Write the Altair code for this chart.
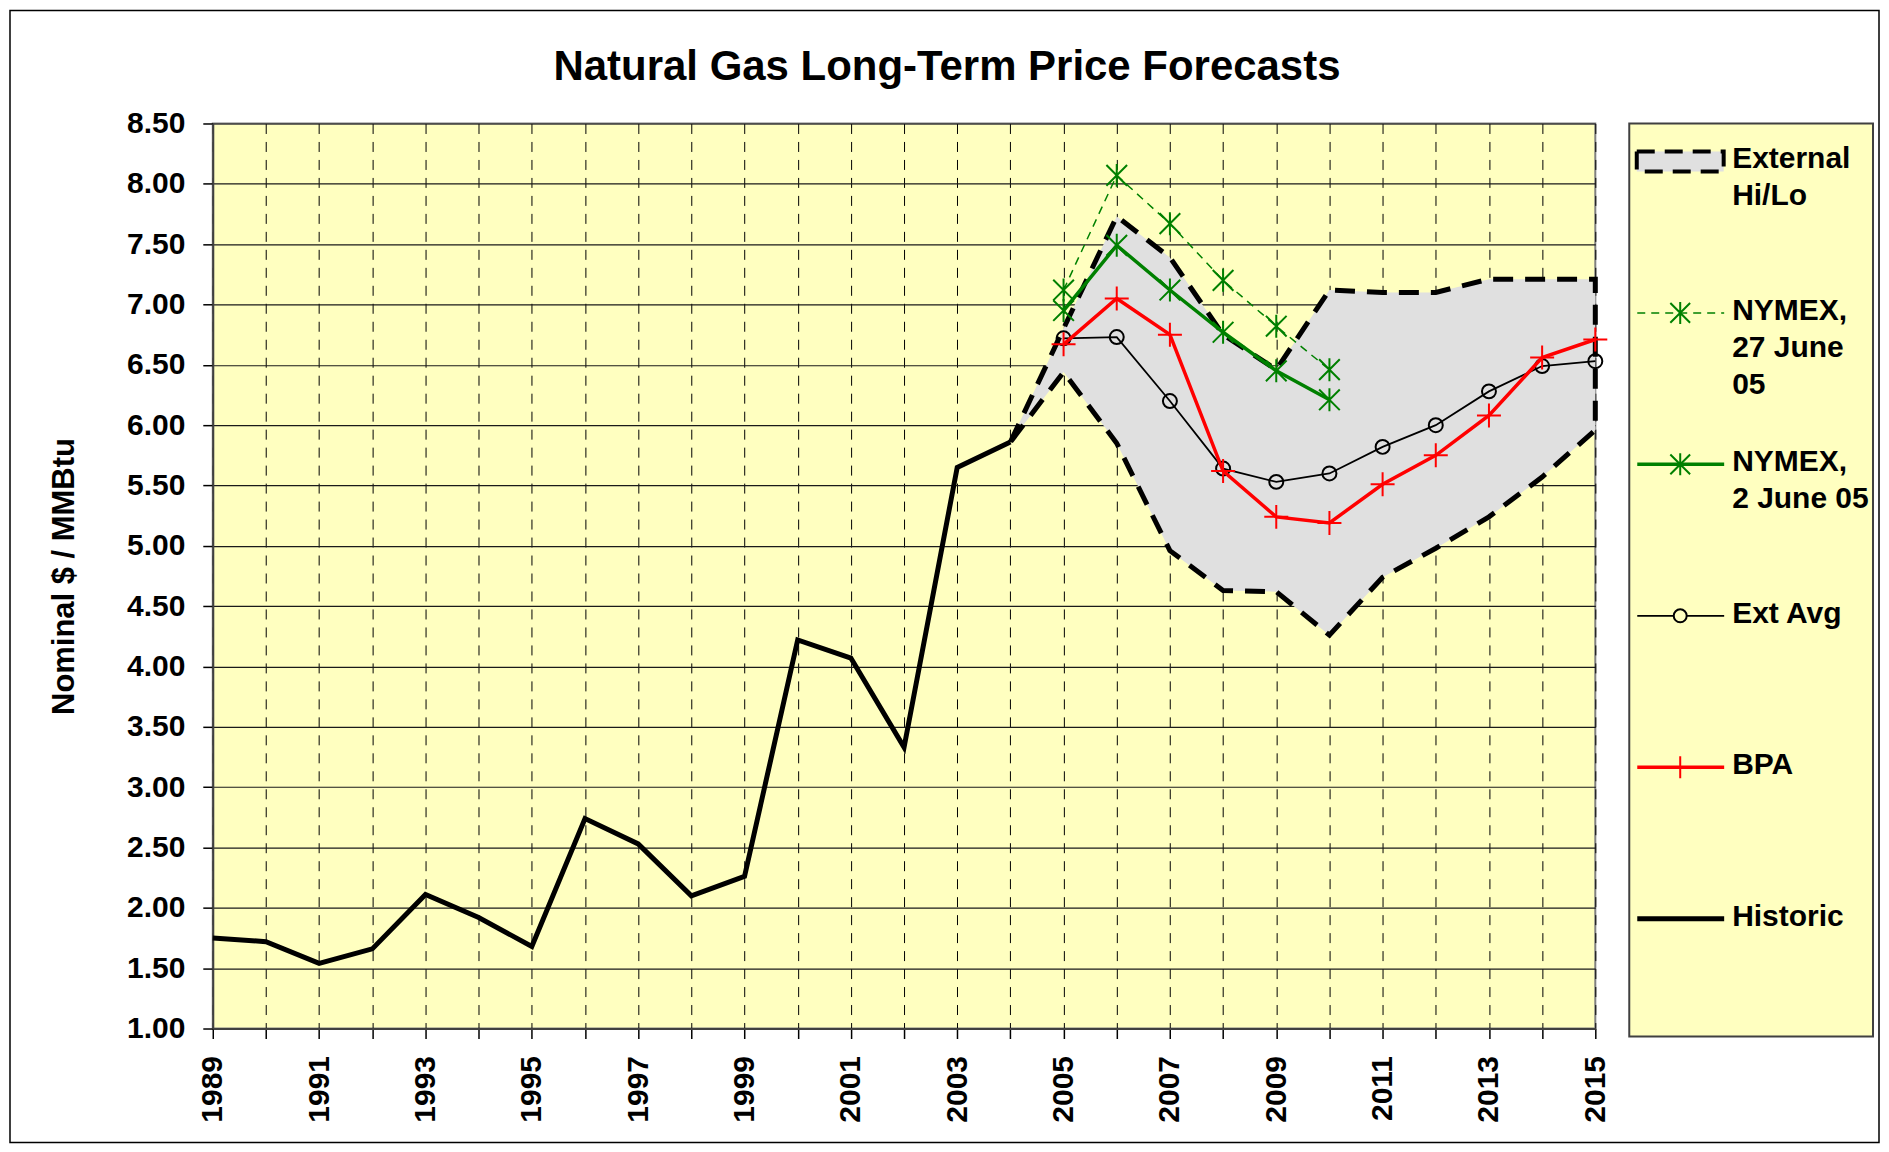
import altair as alt
import pandas as pd

# ---------------- data ----------------
hist_years = list(range(1989, 2005))
hist_values = [1.75, 1.72, 1.54, 1.66, 2.11, 1.92, 1.68, 2.74, 2.53, 2.10,
               2.26, 4.22, 4.07, 3.33, 5.65, 5.86]

band_years = list(range(2004, 2016))
band_high = [5.86, 6.80, 7.73, 7.39, 6.75, 6.46, 7.12, 7.10, 7.10, 7.21, 7.21, 7.21]
band_low = [5.86, 6.44, 5.85, 4.96, 4.63, 4.62, 4.26, 4.74, 4.98, 5.24, 5.57, 5.96]

nymex_years = list(range(2005, 2011))
nymex_27jun = [7.12, 8.07, 7.67, 7.20, 6.82, 6.46]
nymex_2jun = [6.95, 7.49, 7.12, 6.77, 6.45, 6.21]

fc_years = list(range(2005, 2016))
ext_avg = [6.72, 6.73, 6.20, 5.64, 5.53, 5.60, 5.82, 6.00, 6.28, 6.49, 6.53]
bpa = [6.67, 7.05, 6.75, 5.62, 5.24, 5.19, 5.51, 5.75, 6.08, 6.56, 6.71]

all_years = list(range(1989, 2016))
y_ticks = [1.0, 1.5, 2.0, 2.5, 3.0, 3.5, 4.0, 4.5, 5.0, 5.5, 6.0, 6.5, 7.0, 7.5, 8.0, 8.5]

legend_labels = ["External\nHi/Lo", "NYMEX,\n27 June\n05", "NYMEX,\n2 June 05",
                 "Ext Avg", "BPA", "Historic"]

# ---------------- styles ----------------
FONT = "Liberation Sans"
PLOT_BG = "#FFFFC0"
BAND_FILL = "#E0E0E0"
GREEN = "#008000"
RED = "#FF0000"
ASTERISK = "M-0.9,-0.9L0.9,0.9M-0.9,0.9L0.9,-0.9M0,-1L0,1"
PLUS = "M-1,0L1,0M0,-1L0,1"
RECT = "M-1,-0.23L1,-0.23L1,0.23L-1,0.23Z"

# ---------------- frames ----------------
hist_df = pd.DataFrame({"year": hist_years, "value": hist_values})
band_df = pd.DataFrame({"year": band_years, "high": band_high, "low": band_low})
outline_df = pd.DataFrame({
    "year": band_years + band_years[::-1],
    "value": band_high + band_low[::-1],
    "order": list(range(2 * len(band_years))),
})
ny27_df = pd.DataFrame({"year": nymex_years, "value": nymex_27jun})
ny2_df = pd.DataFrame({"year": nymex_years, "value": nymex_2jun})
avg_df = pd.DataFrame({"year": fc_years, "value": ext_avg})
bpa_df = pd.DataFrame({"year": fc_years, "value": bpa})
leg_df = pd.DataFrame({"idx": list(range(len(legend_labels))), "label": legend_labels})

# ---------------- encodings ----------------
xscale = alt.Scale(domain=[1989, 2015], nice=False, zero=False)
yscale = alt.Scale(domain=[1, 8.5], nice=False, zero=False)
xaxis = alt.Axis(values=all_years, format="d", labelAngle=270, labelOverlap=False,
                 labelExpr="datum.value % 2 == 1 ? datum.label : ''",
                 grid=True, gridDash=[10, 8], gridColor="black", gridWidth=1,
                 tickSize=10, labelPadding=17, title=None)
yaxis = alt.Axis(values=y_ticks, format=".2f", labelOverlap=False,
                 grid=True, gridColor="#1a1a1a", gridWidth=1.2,
                 tickSize=10, labelPadding=18, titlePadding=46,
                 title="Nominal $ / MMBtu")
X = alt.X("year:Q", scale=xscale, axis=xaxis)
Y = alt.Y("value:Q", scale=yscale, axis=yaxis)

area = alt.Chart(band_df).mark_area(color=BAND_FILL, opacity=1).encode(
    x=X, y=alt.Y("high:Q", scale=yscale, axis=yaxis), y2="low:Q")
outline = alt.Chart(outline_df).mark_line(
    color="black", strokeWidth=5, strokeDash=[20, 12]).encode(
    x=X, y=Y, order="order:Q")
hist_line = alt.Chart(hist_df).mark_line(color="black", strokeWidth=5).encode(x=X, y=Y)

ny27_line = alt.Chart(ny27_df).mark_line(color=GREEN, strokeWidth=1.5,
                                          strokeDash=[8, 6]).encode(x=X, y=Y)
ny27_pts = alt.Chart(ny27_df).mark_point(shape=ASTERISK, size=529, filled=False,
                                          color=GREEN, strokeWidth=2, opacity=1).encode(x=X, y=Y)
ny2_line = alt.Chart(ny2_df).mark_line(color=GREEN, strokeWidth=3.5).encode(x=X, y=Y)
ny2_pts = alt.Chart(ny2_df).mark_point(shape=ASTERISK, size=529, filled=False,
                                        color=GREEN, strokeWidth=2, opacity=1).encode(x=X, y=Y)
avg_line = alt.Chart(avg_df).mark_line(color="black", strokeWidth=1.8).encode(x=X, y=Y)
avg_pts = alt.Chart(avg_df).mark_point(shape="circle", size=196, filled=False,
                                        color="black", strokeWidth=2, opacity=1).encode(x=X, y=Y)
bpa_line = alt.Chart(bpa_df).mark_line(color=RED, strokeWidth=3.5).encode(x=X, y=Y)
bpa_pts = alt.Chart(bpa_df).mark_point(shape=PLUS, size=576, filled=False,
                                        color=RED, strokeWidth=2, opacity=1).encode(x=X, y=Y)

main = alt.layer(area, outline, hist_line, ny27_line, ny27_pts, ny2_line, ny2_pts,
                 avg_line, avg_pts, bpa_line, bpa_pts).properties(
    width=1384, height=906,
    title=alt.TitleParams("Natural Gas Long-Term Price Forecasts", fontSize=42,
                          font=FONT, fontWeight="bold", color="black",
                          anchor="middle", frame="group", offset=20, dx=43),
    view=alt.ViewBackground(fill=PLOT_BG, stroke="#808080", strokeWidth=2))

# ---------------- legend panel ----------------
LW, LH = 244, 914
yl_scale = alt.Scale(domain=[-0.2507, 5.778], reverse=True, nice=False, zero=False)
YL = alt.Y("idx:Q", scale=yl_scale, axis=None)
base = alt.Chart(leg_df)


def item(i):
    return base.transform_filter(alt.datum.idx == i)


leg_text = base.mark_text(align="left", baseline="top", dy=-17, fontSize=30,
                          fontWeight="bold", font=FONT, lineBreak="\n",
                          lineHeight=37, color="black").encode(
    x=alt.value(103), y=YL, text="label:N")

s0 = item(0).mark_point(shape=RECT, size=7569, filled=True, fill=BAND_FILL,
                        stroke="black", strokeWidth=4, strokeDash=[18, 10],
                        opacity=1).encode(x=alt.value(51), y=YL)
s1a = item(1).mark_rule(color=GREEN, strokeWidth=1.5, strokeDash=[8, 6]).encode(
    x=alt.value(8), x2=alt.value(95), y=YL)
s1b = item(1).mark_point(shape=ASTERISK, size=484, filled=False, color=GREEN,
                         strokeWidth=2, opacity=1).encode(x=alt.value(51), y=YL)
s2a = item(2).mark_rule(color=GREEN, strokeWidth=3.5).encode(
    x=alt.value(8), x2=alt.value(95), y=YL)
s2b = item(2).mark_point(shape=ASTERISK, size=484, filled=False, color=GREEN,
                         strokeWidth=2, opacity=1).encode(x=alt.value(51), y=YL)
s3a = item(3).mark_rule(color="black", strokeWidth=1.8).encode(
    x=alt.value(8), x2=alt.value(95), y=YL)
s3b = item(3).mark_point(shape="circle", size=169, filled=True, fill=PLOT_BG,
                         stroke="black", strokeWidth=2, opacity=1).encode(x=alt.value(51), y=YL)
s4a = item(4).mark_rule(color=RED, strokeWidth=3.5).encode(
    x=alt.value(8), x2=alt.value(95), y=YL)
s4b = item(4).mark_point(shape=PLUS, size=484, filled=False, color=RED,
                         strokeWidth=2, opacity=1).encode(x=alt.value(51), y=YL)
s5 = item(5).mark_rule(color="black", strokeWidth=5).encode(
    x=alt.value(8), x2=alt.value(95), y=YL)

# thin frame around the whole picture (drawn from the legend panel so that it
# does not move the plot title)
frame = base.transform_filter(alt.datum.idx == 0).mark_rect(
    fill=None, stroke="black", strokeWidth=1.5).encode(
    x=alt.value(-1621), x2=alt.value(250), y=alt.value(-113), y2=alt.value(1020))

legend = alt.layer(frame, s0, s1a, s1b, s2a, s2b, s3a, s3b, s4a, s4b, s5, leg_text).properties(
    width=LW, height=LH,
    view=alt.ViewBackground(fill=PLOT_BG, stroke="#404040", strokeWidth=2))

chart = alt.hconcat(main, legend, spacing=34, bounds="flush").properties(
    padding={"left": 0, "top": 0, "right": 0, "bottom": 0},
).configure(font=FONT).configure_axis(
    labelFont=FONT, labelFontSize=30, labelFontWeight="bold", labelColor="black",
    titleFont=FONT, titleFontSize=31, titleFontWeight="bold", titleColor="black",
    domainColor="#404040", domainWidth=2, tickColor="black", tickWidth=1.5,
)

chart.save("out.html", embed_options={"renderer": "svg", "actions": False})
